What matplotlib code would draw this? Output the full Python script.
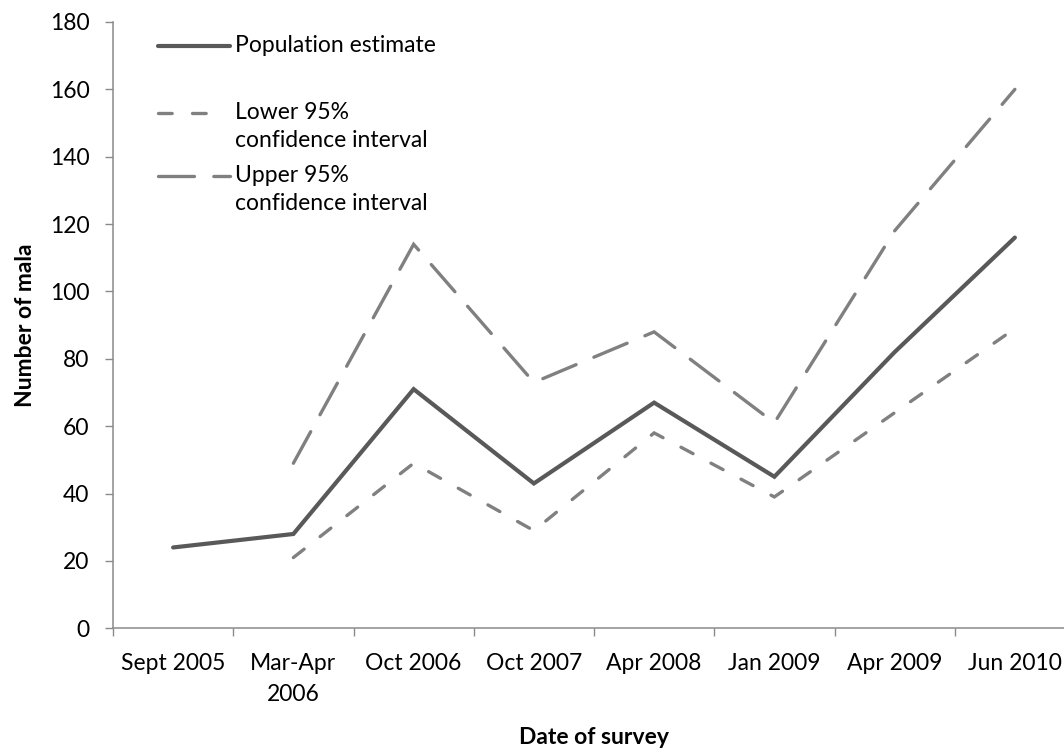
import numpy as np
import matplotlib
matplotlib.use("Agg")
import matplotlib.pyplot as plt

# Survey dates and population estimates (number of mala)
dates = ["Sept 2005", "Mar-Apr\n2006", "Oct 2006", "Oct 2007",
         "Apr 2008", "Jan 2009", "Apr 2009", "Jun 2010"]
estimate = [24, 28, 71, 43, 67, 45, 82, 116]
lower_ci = [np.nan, 21, 49, 29, 58, 39, 64, 89]
upper_ci = [np.nan, 49, 114, 73, 88, 61, 118, 160]
y_ticks = [0, 20, 40, 60, 80, 100, 120, 140, 160, 180]

FONT = "Lato"
FS = 16.5
plt.rcParams["font.family"] = [FONT, "DejaVu Sans"]

W, H = 1064, 748
fig = plt.figure(figsize=(W / 100, H / 100), dpi=100)

# plot area in pixels (right edge runs just past the canvas)
left_px, right_px, top_px, bottom_px = 113, 1075, 22, 628.3
ax = fig.add_axes([left_px / W, (H - bottom_px) / H,
                   (right_px - left_px) / W, (bottom_px - top_px) / H])

dark = "#595959"
mid = "#808080"
axis_col = "#8a8a8a"

LW_SOLID = 3.0
LW_DASH = 2.4
LOWER_DASH = (0, (4.1, 6.1))
UPPER_DASH = (0, (10.8, 5.8))

x = np.arange(len(dates))
ax.plot(x, estimate, color=dark, lw=LW_SOLID, solid_capstyle="round",
        solid_joinstyle="miter")
ax.plot(x, lower_ci, color=mid, lw=LW_DASH, linestyle=LOWER_DASH,
        dash_capstyle="round", dash_joinstyle="miter")
ax.plot(x, upper_ci, color=mid, lw=LW_DASH, linestyle=UPPER_DASH,
        dash_capstyle="round", dash_joinstyle="miter")

ax.set_xlim(-0.5, len(dates) - 0.5)
ax.set_ylim(0, 180)

for side in ("top", "right"):
    ax.spines[side].set_visible(False)
for side in ("left", "bottom"):
    ax.spines[side].set_color(axis_col)
    ax.spines[side].set_linewidth(1.1)

ax.set_yticks(y_ticks)
ax.set_yticklabels([str(v) for v in y_ticks])
ax.tick_params(axis="y", length=6, width=1.0, color=axis_col, pad=11,
               labelsize=FS, labelcolor="black")

major_x = np.arange(-0.5, len(dates), 1.0)
ax.set_xticks(major_x)
ax.set_xticklabels([""] * len(major_x))
ax.set_xticks(x, minor=True)
ax.set_xticklabels(dates, minor=True, linespacing=1.55)
ax.tick_params(axis="x", which="major", length=6, width=1.0, color=axis_col)
ax.tick_params(axis="x", which="minor", length=0, pad=18,
               labelsize=FS, labelcolor="black")

ax.set_ylabel("Number of mala", fontsize=FS, fontweight="bold", labelpad=10)
ax.set_xlabel("Date of survey", fontsize=FS, fontweight="bold", labelpad=16)

# legend drawn in axes coordinates, handles aligned with first text line
def ax_xy(px, py):
    return (px - left_px) / (right_px - left_px), (bottom_px - py) / (bottom_px - top_px)

tx, _ = ax_xy(235, 0)
entries = [
    (dark, LW_SOLID, "-", ["Population estimate"], 46, 230),
    (mid, LW_DASH, LOWER_DASH, ["Lower 95%", "confidence interval"], 113, 214),
    (mid, LW_DASH, UPPER_DASH, ["Upper 95%", "confidence interval"], 176, 230),
]
for col, lw, ls, lines, py, end_px in entries:
    _, ly = ax_xy(0, py)
    hx0, _ = ax_xy(158, 0)
    hx1, _ = ax_xy(end_px, 0)
    ax.plot([hx0, hx1], [ly, ly], transform=ax.transAxes, color=col, lw=lw,
            linestyle=ls, dash_capstyle="round", solid_capstyle="round",
            clip_on=False)
    for i, s in enumerate(lines):
        _, ty = ax_xy(0, py + i * 27.5)
        ax.text(tx, ty, s, transform=ax.transAxes, fontsize=FS,
                va="center", ha="left", color="black")

fig.savefig("out.png", dpi=100)
